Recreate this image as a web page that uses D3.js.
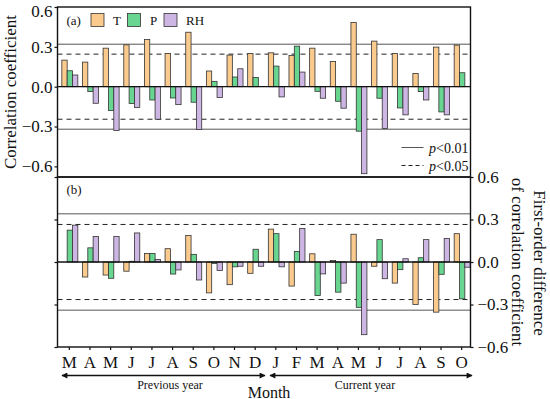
<!DOCTYPE html>
<html>
<head>
<meta charset="utf-8">
<script src="https://cdn.jsdelivr.net/npm/d3@7"></script>
<style>
  body { margin: 0; background: #fff; }
  svg text { font-family: "Liberation Serif", "Times New Roman", serif; fill: #111; }
</style>
</head>
<body>
<div id="chart"></div>
<script>
// months from March of previous year to October of current year
var months = ["M","A","M","J","J","A","S","O","N","D","J","F","M","A","M","J","J","A","S","O"];
var seriesNames = ["T", "P", "RH"];

// (a) correlation coefficient
var corrT  = [0.20, 0.185, 0.29, 0.315, 0.355, 0.25, 0.41, 0.118, 0.238, 0.25, 0.255, 0.235, 0.29, 0.19, 0.483, 0.343, 0.25, 0.10, 0.298, 0.313];
var corrP  = [0.12, -0.037, -0.18, -0.127, -0.10, -0.085, -0.117, 0.04, 0.073, 0.07, 0.155, 0.305, -0.035, -0.11, -0.335, -0.087, -0.16, -0.037, -0.19, 0.105];
var corrRH = [0.088, -0.125, -0.33, -0.157, -0.245, -0.135, -0.322, -0.082, 0.135, null, -0.077, 0.11, -0.087, -0.162, -0.655, -0.315, -0.212, -0.10, -0.212, null];

// (b) first-order difference of correlation coefficient
var diffT  = [null, -0.106, -0.092, -0.065, 0.06, 0.094, 0.187, -0.218, -0.16, -0.08, 0.232, -0.17, 0.058, 0.01, 0.196, -0.03, -0.149, -0.30, -0.354, 0.20];
var diffP  = [0.225, 0.10, -0.115, 0.005, 0.06, -0.085, 0.054, -0.01, -0.034, 0.09, 0.20, 0.075, -0.237, -0.213, -0.32, 0.158, -0.054, 0.03, -0.087, -0.26];
var diffRH = [0.26, 0.18, 0.18, 0.205, 0.018, -0.056, -0.127, -0.06, -0.03, -0.03, -0.034, 0.237, -0.084, -0.149, -0.513, -0.118, 0.023, 0.158, 0.166, -0.037];

// significance thresholds
var sigA = { p01: 0.32, p05: 0.245 };
var sigB = { p01: 0.34, p05: 0.265 };

var yTicks = [-0.6, -0.3, 0, 0.3, 0.6];
var colors = { T: "#fbca8d", P: "#68d690", RH: "#cdb6e4" };

var width = 550, height = 399;
var left = 57.5, right = 470.5;

var svg = d3.select("#chart").append("svg")
    .attr("width", width)
    .attr("height", height);

var defs = svg.append("defs");
defs.append("marker")
    .attr("id", "arrow")
    .attr("viewBox", "0 0 10 10")
    .attr("refX", 9).attr("refY", 5)
    .attr("markerWidth", 8).attr("markerHeight", 6)
    .attr("markerUnits", "userSpaceOnUse")
    .attr("orient", "auto-start-reverse")
    .append("path")
    .attr("d", "M0,0L10,5L0,10z")
    .attr("fill", "#111");

var idx = d3.range(months.length);
var x = d3.scaleBand().domain(idx).range([59, 472]);
var xs = d3.scaleBand().domain(seriesNames).range([-7.5, 8.5]);

var yA = d3.scaleLinear().domain([-0.68, 0.6]).range([177, 7]);
var yB = d3.scaleLinear().domain([-0.6, 0.6]).range([347, 177]);

var fmt = d3.format(".1f");

function drawPanel(y, data, sig) {
  var g = svg.append("g");

  // significance lines
  [sig.p01, -sig.p01].forEach(function (v) {
    g.append("line")
        .attr("x1", left).attr("x2", right)
        .attr("y1", y(v)).attr("y2", y(v))
        .attr("stroke", "#555").attr("stroke-width", 1);
  });
  [sig.p05, -sig.p05].forEach(function (v) {
    g.append("line")
        .attr("x1", left).attr("x2", right)
        .attr("y1", y(v)).attr("y2", y(v))
        .attr("stroke", "#222").attr("stroke-width", 1)
        .attr("stroke-dasharray", "5,4");
  });

  seriesNames.forEach(function (s, k) {
    var vals = data[k];
    g.selectAll("rect.s" + k)
        .data(idx.filter(function (i) { return vals[i] !== null; }))
        .enter().append("rect")
        .attr("class", "s" + k)
        .attr("x", function (i) { return x(i) + x.bandwidth() / 2 + xs(s); })
        .attr("width", xs.bandwidth())
        .attr("y", function (i) { return y(Math.max(0, vals[i])); })
        .attr("height", function (i) { return Math.abs(y(vals[i]) - y(0)); })
        .attr("fill", colors[s])
        .attr("stroke", "#333")
        .attr("stroke-width", 0.8);
  });

  // zero line
  g.append("line")
      .attr("x1", left).attr("x2", right)
      .attr("y1", y(0)).attr("y2", y(0))
      .attr("stroke", "#111").attr("stroke-width", 1.3);

  // frame
  g.append("rect")
      .attr("x", left).attr("y", y.range()[1])
      .attr("width", right - left)
      .attr("height", y.range()[0] - y.range()[1])
      .attr("fill", "none")
      .attr("stroke", "#111").attr("stroke-width", 1.4);
  return g;
}

drawPanel(yA, [corrT, corrP, corrRH], sigA);
drawPanel(yB, [diffT, diffP, diffRH], sigB);

function styleAxis(sel) {
  sel.select(".domain").remove();
  sel.selectAll(".tick line").attr("stroke", "#111").attr("stroke-width", 1.2);
  sel.selectAll(".tick text")
      .style("font-family", "'Liberation Serif', serif")
      .style("font-size", "17px")
      .attr("fill", "#111");
}

// left axis of (a)
var axA = svg.append("g")
    .attr("transform", "translate(" + left + ",0)")
    .call(d3.axisLeft(yA).tickValues(yTicks).tickFormat(fmt).tickSize(3).tickPadding(2))
    .call(styleAxis);
// keep the top label inside the picture
axA.selectAll(".tick text").filter(function (d) { return d === 0.6; }).attr("y", 4);

// left ticks of (b), no labels
svg.append("g")
    .attr("transform", "translate(" + left + ",0)")
    .call(d3.axisLeft(yB).tickValues(yTicks).tickFormat("").tickSize(3))
    .call(styleAxis);

// right axis of (b)
svg.append("g")
    .attr("transform", "translate(" + right + ",0)")
    .call(d3.axisRight(yB).tickValues(yTicks).tickFormat(fmt).tickSize(3).tickPadding(4))
    .call(styleAxis);

// bottom month axis
svg.append("g")
    .attr("transform", "translate(0,347)")
    .call(d3.axisBottom(x).tickFormat(function (i) { return months[i]; }).tickSize(3).tickPadding(6))
    .call(styleAxis);

// axis titles
svg.append("text")
    .attr("transform", "translate(16,92) rotate(-90)")
    .attr("text-anchor", "middle")
    .style("font-size", "17px")
    .text("Correlation coefficient");

svg.append("text")
    .attr("transform", "translate(534,263) rotate(90)")
    .attr("text-anchor", "middle")
    .style("font-size", "17px")
    .text("First-order difference");

svg.append("text")
    .attr("transform", "translate(512,262) rotate(90)")
    .attr("text-anchor", "middle")
    .style("font-size", "17px")
    .text("of correlation coefficient");

// panel labels
svg.append("text").attr("x", 66.5).attr("y", 24.5).style("font-size", "13px").text("(a)");
svg.append("text").attr("x", 66.5).attr("y", 194).style("font-size", "13px").text("(b)");

// series legend
var leg = svg.append("g");
seriesNames.forEach(function (s, k) {
  var lx = 91 + k * 36.5;
  leg.append("rect")
      .attr("x", lx).attr("y", 13.5)
      .attr("width", 13).attr("height", 13)
      .attr("fill", colors[s]).attr("stroke", "#333").attr("stroke-width", 0.8);
  leg.append("text")
      .attr("x", lx + (s === "RH" ? 31 : 26)).attr("y", 25)
      .attr("text-anchor", "middle")
      .style("font-size", "13px")
      .text(s);
});

// significance legend
var sl = svg.append("g");
sl.append("line").attr("x1", 401.5).attr("x2", 423.5).attr("y1", 147.5).attr("y2", 147.5)
    .attr("stroke", "#555").attr("stroke-width", 1);
sl.append("line").attr("x1", 401.5).attr("x2", 423.5).attr("y1", 165.5).attr("y2", 165.5)
    .attr("stroke", "#222").attr("stroke-width", 1).attr("stroke-dasharray", "4,3");
[["0.01", 152.5], ["0.05", 170.5]].forEach(function (d) {
  var t = sl.append("text").attr("x", 429).attr("y", d[1]).style("font-size", "14px");
  t.append("tspan").style("font-style", "italic").text("p");
  t.append("tspan").text("<" + d[0]);
});

// year arrows
svg.append("line")
    .attr("x1", 62).attr("x2", 265).attr("y1", 375.5).attr("y2", 375.5)
    .attr("stroke", "#111").attr("stroke-width", 1.3)
    .attr("marker-start", "url(#arrow)").attr("marker-end", "url(#arrow)");
svg.append("line")
    .attr("x1", 270).attr("x2", 472).attr("y1", 375.5).attr("y2", 375.5)
    .attr("stroke", "#111").attr("stroke-width", 1.3)
    .attr("marker-start", "url(#arrow)").attr("marker-end", "url(#arrow)");

svg.append("text").attr("x", 170).attr("y", 389).attr("text-anchor", "middle")
    .style("font-size", "12px").text("Previous year");
svg.append("text").attr("x", 365).attr("y", 388.5).attr("text-anchor", "middle")
    .style("font-size", "12px").text("Current year");
svg.append("text").attr("x", 269).attr("y", 397.5).attr("text-anchor", "middle")
    .style("font-size", "16px").text("Month");
</script>
</body>
</html>
